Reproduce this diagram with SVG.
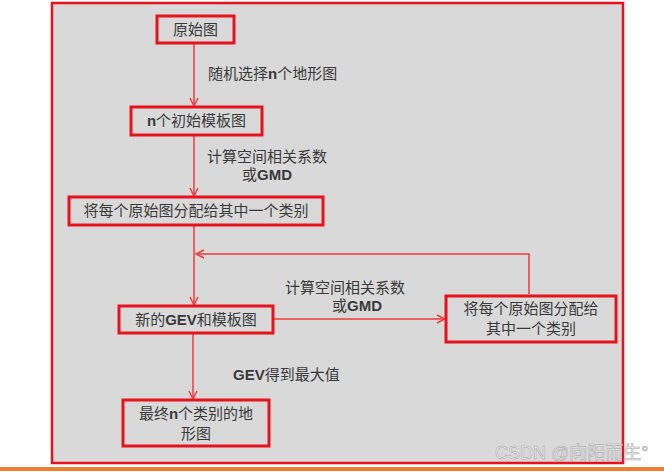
<svg xmlns="http://www.w3.org/2000/svg" width="664" height="472" viewBox="0 0 664 472">
<defs>
<style>
.box{fill:none;stroke:#e8121c;stroke-width:3}
.t{font-family:"Liberation Sans","Noto Sans CJK SC",sans-serif;font-size:15px;fill:#3a3a3a}
.b{font-weight:bold}
.c{fill:none;stroke:#ee3b3b;stroke-width:1.5}
</style>
<marker id="a" viewBox="0 0 10 10" refX="9" refY="5" markerWidth="10" markerHeight="10" markerUnits="userSpaceOnUse" orient="auto">
<path d="M1,1 L9,5 L1,9" fill="none" stroke="#ee3b3b" stroke-width="1.5"/>
</marker>
</defs>
<rect width="664" height="472" fill="#fff"/>
<rect x="52" y="3" width="571" height="460" fill="#d9d9d9" stroke="#e8121c" stroke-width="2.5"/>
<rect x="0" y="467" width="664" height="4" fill="#ee8035"/>
<g id="connectors">
<line class="c" x1="194" y1="44" x2="194" y2="106" marker-end="url(#a)"/>
<line class="c" x1="194" y1="136" x2="194" y2="196" marker-end="url(#a)"/>
<line class="c" x1="194" y1="226" x2="194" y2="305" marker-end="url(#a)"/>
<line class="c" x1="273" y1="319" x2="445" y2="319" marker-end="url(#a)"/>
<polyline class="c" points="529,294 529,254 196,254" marker-end="url(#a)"/>
<line class="c" x1="193" y1="334" x2="193" y2="399" marker-end="url(#a)"/>
</g>
<g id="n1"><rect class="box" x="157" y="16" width="77" height="27"/><text class="t" x="195.5" y="35" text-anchor="middle">原始图</text></g>
<g id="n2"><rect class="box" x="131" y="107" width="131" height="28"/><text class="t" x="196.5" y="126" text-anchor="middle"><tspan class="b">n</tspan>个初始模板图</text></g>
<g id="n3"><rect class="box" x="69" y="197" width="254" height="28"/><text class="t" x="196" y="216" text-anchor="middle">将每个原始图分配给其中一个类别</text></g>
<g id="n4"><rect class="box" x="119" y="306" width="154" height="27"/><text class="t" x="196" y="325" text-anchor="middle">新的<tspan class="b">GEV</tspan>和模板图</text></g>
<g id="n5"><rect class="box" x="446" y="296" width="170" height="46"/><text class="t" x="531" y="314" text-anchor="middle">将每个原始图分配给</text><text class="t" x="531" y="334" text-anchor="middle">其中一个类别</text></g>
<g id="n6"><rect class="box" x="123" y="400" width="146" height="46"/><text class="t" x="196" y="419" text-anchor="middle">最终<tspan class="b">n</tspan>个类别的地</text><text class="t" x="196" y="439" text-anchor="middle">形图</text></g>
<g id="labels">
<text class="t" x="208" y="79">随机选择<tspan class="b">n</tspan>个地形图</text>
<text class="t" x="267" y="162" text-anchor="middle">计算空间相关系数</text>
<text class="t" x="267" y="180" text-anchor="middle">或<tspan class="b">GMD</tspan></text>
<text class="t" x="345" y="293" text-anchor="middle">计算空间相关系数</text>
<text class="t" x="357" y="311" text-anchor="middle">或<tspan class="b">GMD</tspan></text>
<text class="t" x="233" y="380"><tspan class="b">GEV</tspan>得到最大值</text>
</g>
<text x="495" y="459" font-family="Liberation Sans,Noto Sans CJK SC,sans-serif" font-size="18" fill="#f2f2f2" stroke="#a0a0a0" stroke-width="0.5">CSDN @向阳而生°</text>
</svg>
